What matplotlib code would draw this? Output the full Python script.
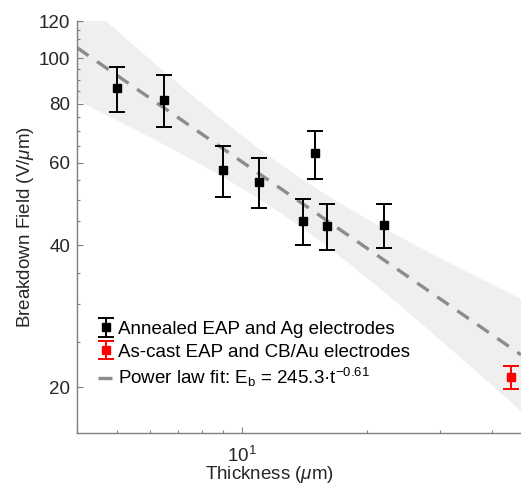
import numpy as np
import matplotlib
matplotlib.use("Agg")
import matplotlib.pyplot as plt
from matplotlib.ticker import FixedLocator, FuncFormatter, NullFormatter, LogLocator

# Annealed EAP films with Ag electrodes
thick_annealed = [5.0, 6.5, 9.0, 11.0, 14.0, 15.0, 16.0, 22.0]
field_annealed = [86.5, 81.7, 58.0, 54.7, 45.2, 62.8, 44.1, 44.3]
err_annealed = [9.5, 10.3, 7.2, 6.6, 5.1, 7.3, 5.0, 4.8]

# As-cast EAP film with CB/Au electrodes
thick_ascast = [44.5]
field_ascast = [21.0]
err_ascast = [1.2]

# Power law fit E_b = A * t^k
fit_A = 245.3
fit_k = -0.61
t_crit_95 = 2.365  # Student t, 7 degrees of freedom

y_major = [20, 40, 60, 80, 100, 120]
y_minor = [25, 30, 35, 45, 50, 55, 65, 70, 75, 85, 90, 95, 105, 110, 115]

plt.rcParams["font.family"] = ["Liberation Sans", "DejaVu Sans"]
plt.rcParams["mathtext.fontset"] = "custom"
plt.rcParams["mathtext.rm"] = "Liberation Sans"
plt.rcParams["mathtext.it"] = "Liberation Sans:italic"
plt.rcParams["mathtext.default"] = "regular"

text_c = "#262626"
axis_c = "#808080"

fig = plt.figure(figsize=(5.21, 4.87), dpi=100)
ax = fig.add_axes([77 / 521, 54.3 / 487, 444 / 521, 411.7 / 487])
ax.set_xscale("log")
ax.set_yscale("log")
ax.set_xlim(4, 47)
ax.set_ylim(16, 120)

# 95% confidence band of the log-log fit
t_all = np.array(thick_annealed + thick_ascast)
e_all = np.array(field_annealed + field_ascast)
u = np.log10(t_all)
v = np.log10(e_all)
n = len(u)
resid = v - (np.log10(fit_A) + fit_k * u)
s = np.sqrt(np.sum(resid ** 2) / (n - 2))
sxx = np.sum((u - u.mean()) ** 2)
tg = np.logspace(np.log10(4), np.log10(47), 200)
ug = np.log10(tg)
center = np.log10(fit_A) + fit_k * ug
half = t_crit_95 * s * np.sqrt(1.0 / n + (ug - u.mean()) ** 2 / sxx)
ax.fill_between(tg, 10 ** (center - half), 10 ** (center + half),
                color="#efefef", linewidth=0, zorder=1)

fit_line, = ax.plot(tg, fit_A * tg ** fit_k, color="#8c8c8c", linewidth=2.4,
                    dashes=(4.2, 3.1), zorder=2,
                    label=r"Power law fit: E$_{b}$ = 245.3·t$^{-0.61}$")

h1 = ax.errorbar(thick_annealed, field_annealed, yerr=err_annealed, fmt="s",
                 color="black", markersize=6.3, elinewidth=1.4, capsize=5.5,
                 capthick=1.4, zorder=3, label="Annealed EAP and Ag electrodes")
h2 = ax.errorbar(thick_ascast, field_ascast, yerr=err_ascast, fmt="s",
                 color="#ff0000", markersize=6.3, elinewidth=1.4, capsize=5.5,
                 capthick=1.4, zorder=3, label="As-cast EAP and CB/Au electrodes")

ax.yaxis.set_major_locator(FixedLocator(y_major))
ax.yaxis.set_minor_locator(FixedLocator(y_minor))
ax.yaxis.set_major_formatter(FuncFormatter(lambda val, pos: f"{val:g}"))
ax.yaxis.set_minor_formatter(NullFormatter())
ax.xaxis.set_major_locator(LogLocator(base=10, numticks=5))
ax.xaxis.set_minor_locator(LogLocator(base=10, subs=np.arange(2, 10), numticks=20))
ax.xaxis.set_minor_formatter(NullFormatter())

for side in ("top", "right"):
    ax.spines[side].set_visible(False)
for side in ("left", "bottom"):
    ax.spines[side].set_color(axis_c)
    ax.spines[side].set_linewidth(1.0)

ax.tick_params(which="both", direction="in", color=axis_c, labelcolor=text_c,
               labelsize=13.5, width=0.8)
ax.tick_params(which="major", length=4.0, pad=5)
ax.tick_params(which="minor", length=2.4)
ax.tick_params(axis="x", which="major", pad=9.5, labelsize=13.5)

ax.set_xlabel(r"Thickness ($\mathit{\mu}$m)", fontsize=13.5, color=text_c)
ax.xaxis.set_label_coords((269 - 77) / 444, -(464 - 432.7) / 411.7)
ax.set_ylabel(r"Breakdown Field (V/$\mathit{\mu}$m)", fontsize=13.5,
              color=text_c, labelpad=2)

leg = ax.legend(handles=[h1, h2, fit_line], loc="upper left",
                bbox_to_anchor=(0.03, 0.29), frameon=False, fontsize=13.5,
                handlelength=0.9, handletextpad=0.2, labelspacing=0.3,
                borderaxespad=0)
for t in leg.get_texts():
    t.set_color("black")

fig.savefig("out.png", dpi=100)
